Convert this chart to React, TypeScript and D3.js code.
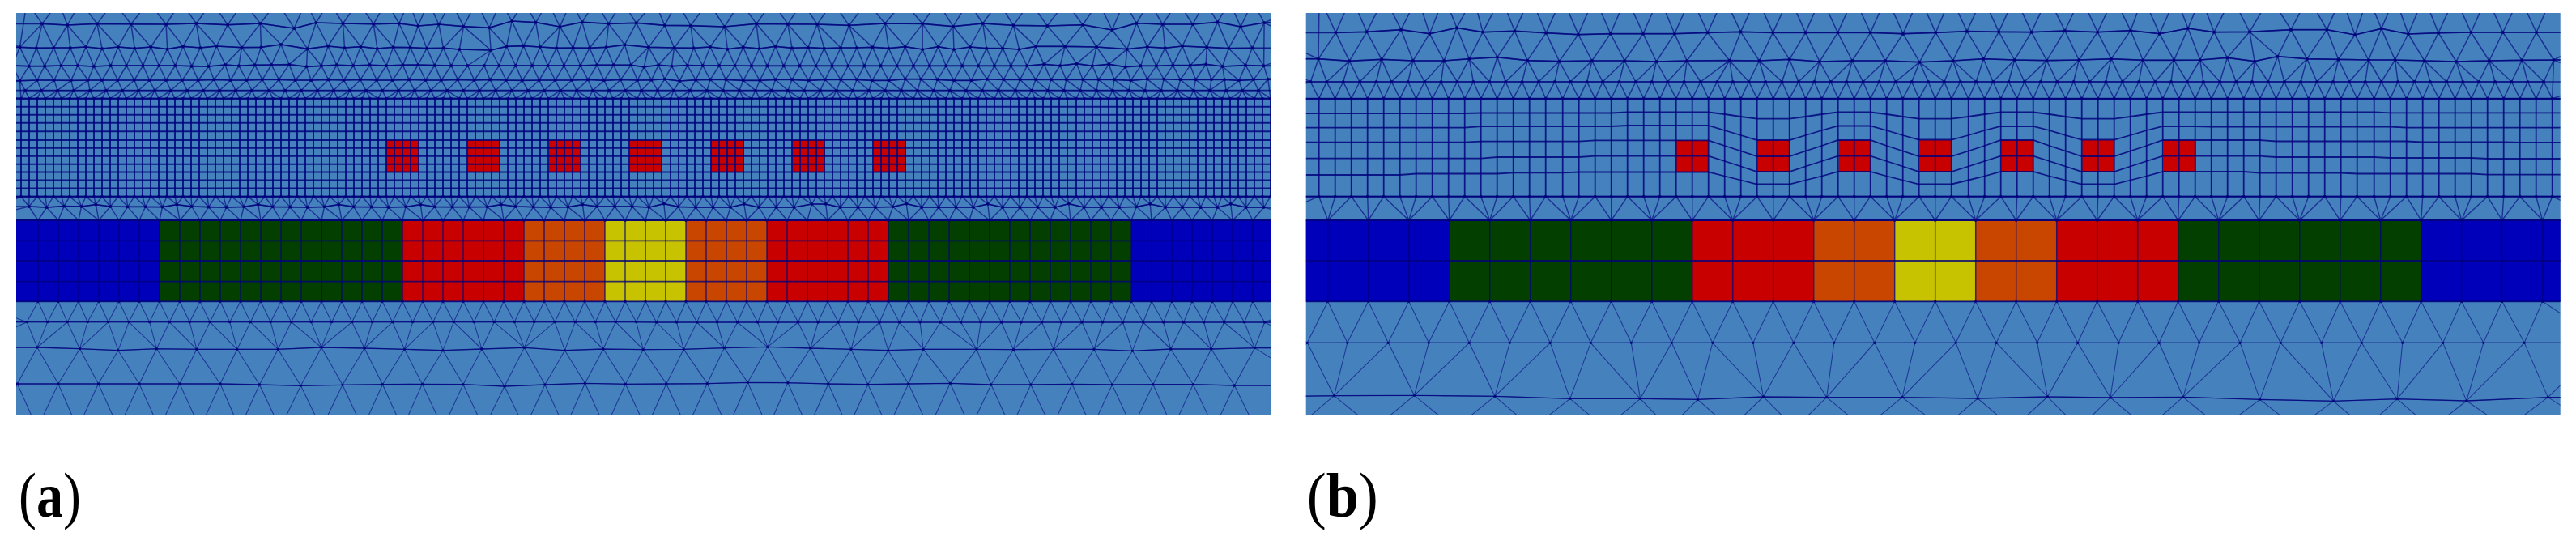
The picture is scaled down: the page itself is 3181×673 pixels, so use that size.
import React from "react";
import * as d3 from "d3";

type P = [number, number];

// ---- regions and their colours ----
const bandEdges = [0, 177, 477, 627, 727, 827, 927, 1077, 1377, 1549];
const bandMaterials = ["#0000bb", "#034000", "#c80000", "#c84600", "#c8c300", "#c84600", "#c80000", "#034000", "#0000bb"];
const squareLefts = [457, 557.5, 658, 758, 858.5, 958.5, 1059];
const squareSpan = 40;
const squareTop = 173;
const squareBottom = 212.5;

// ---- structured grid (panel a), column positions ----
const columnsA = [
  6,16,26,36,46,56,66,76,86,96,106,116,126,136,146,156,166,176,186,196,206,216,226,236,246,256,266,276,286,296,
  307,317,327,337,347,357,367,377,387,397,407,417,427,437,447,457,467,477,487,497,507,517,527,537,547,557,567,577,587,597,
  607,617,627,637,647,657,667,677,687,697,707,717,727,737,747,757,767,777,787,797,
  808,818,828,838,848,858,868,878,888,898,908,918,928,938,948,958,968,978,988,998,1008,1018,1028,1038,1048,1058,1068,1078,1088,1098,
  1108,1118,1128,1138,1148,1158,1168,1178,1188,1198,1208,1218,1228,1238,1248,1258,1268,1278,1288,1298,
  1309,1319,1329,1339,1349,1359,1369,1379,1389,1399,1409,1419,1429,1439,1449,1459,1469,1479,1489,1499,1509,1519,1529,1539,1549,
];
const rowsA = [121.7, 131.7, 141.7, 151.7, 162.2, 173, 182.7, 192.7, 202.7, 212.5, 222.5, 232.5, 242.7];

// ---- structured grid (panel b), deformed rows, one height per column ----
const rowB0 = Array.from({ length: 77 }, () => 122);
const rowB1 = [
  140,140,140,140,140,140,140,140,140,140, 139.5,139.5,139.5,139.5,139.5,139.5,139.5,139.5,139.5,
  138.5,138.5,138.5,138.5,138.5,138.5, 141,144,146.7,146.7,146.7,144,141, 138.5,138.5,138.5, 141,144,146.7,146.7,146.7,144,141,
  138.5,138.5,138.5, 141,144,146.7,146.7,146.7,144,141, 138.5,138.5,138.5,
  138.5,138.5,138.5,138.5,138.5,138.5,138.5,138.5,138.5,138.5,138.5, 139.3,139.3,139.3,139.3,139.3,139.3,139.3,139.3,139.3,139.3,139.3,
];
const rowB2 = [
  157.7,157.7,157.7,157.7,157.7,157.7,157.7,157.7,157.7,157.7, 156,156,156,156,156,156,156,156,156,
  155,155,155,155,155,155, 161,167,173,173,173,167,161, 155.5,155.5,155.5, 161,167,172.5,172.5,172.5,167,161,
  156,156,156, 161,167,172.5,172.5,172.5,167,161, 156,156,156,
  156.5,156.5,156.5,156.5,156.5,156.5,156.5,156.5,156.5,156.5,156.5,156.5, 157.7,157.7,157.7,157.7,157.7,157.7,157.7,157.7,157.7,157.7,
];
const rowB3 = [
  175.7,175.7,175.7,175.7,175.7,175.7,175.7,175.7,175.7,175.7, 174.7,174.7,174.7,174.7,174.7,174.7,174.7,
  173.3,173.3,173.3,173.3,173.3,173.3,173.3,173.3, 180,186.5,193,193,193,186.5,180, 173,173,173, 180,186.5,193,193,193,186.5,180,
  173,173,173, 180,186.5,193,193,193,186.5,180, 173,173,173,173,173,173,173,
  174.5,174.5,174.5,174.5,174.5,174.5,174.5,174.5,174.5, 175.5,175.5,175.5,175.5,175.5,175.5, 176,176,176,
];
const rowB4 = [
  195.7,195.7,195.7,195.7,195.7,195.7,195.7,195.7,195.7,195.7,195.7, 194,194,194,194,194,194,
  192.7,192.7,192.7,192.7,192.7,192.7,192.7,192.7, 199,205.5,212,212,212,205.5,199, 192.7,192.7,192.7, 199,205.5,212,212,212,205.5,199,
  192.7,192.7,192.7, 199,205.5,212,212,212,205.5,199, 192.7,192.7,192.7,192.7,192.7,192.7,192.7,
  194,194,194,194,194,194,194, 195,195,195,195,195,195, 196,196,196,196,196,
];
const rowB5 = [
  216,216,216,216,216,216, 214.5,214.5,214.5,214.5,214.5,214.5, 213.3,213.3,213.3,213.3,
  212.5,212.5,212.5,212.5,212.5,212.5,212.5,212.5,212.5, 217.5,222.5,227.5,227.5,227.5,222.5,217.5, 212,212,212, 217.5,222.5,227.5,227.5,227.5,222.5,217.5,
  212,212,212, 217.5,222.5,227.5,227.5,227.5,222.5,217.5, 212,212,212,212,212,212,
  213.5,213.5,213.5,213.5,213.5,213.5, 214.5,214.5,214.5,214.5,214.5,214.5,214.5,214.5, 215.7,215.7,215.7,215.7,215.7,
];
const rowB6 = Array.from({ length: 77 }, () => 242.7);
const rowsB = [rowB0, rowB1, rowB2, rowB3, rowB4, rowB5, rowB6];

// ---- coloured band, grid lines ----
const bandColumnsA = [27,52,77,102,127,152,177,202,227,252,277,302,327,352,377,402,427,452,477,502,527,552,577,602,627,652,677,702,727,752,777,802,827,852,877,902,927,952,977,1002,1027,1052,1077,1102,1127,1152,1177,1202,1227,1252,1277,1302,1327,1352,1377,1402,1427,1452,1477,1502,1527];
const bandRowsA = [272, 297.3, 322, 347.7, 372.3];
const bandRowsB = [272, 322, 372.3];

const a0L: P[] = [[65,6],[142,6],[195,6],[275,6],[360,6],[438,6],[513,6],[590,6],[671,6],[740,6],[797,6],[867,6],[935,6],[989,6],[1037,6],[1092,6],[1153,6],[1212,6],[1268,6],[1326,6],[1382,6],[1441,6],[1506,6]];
const a0R: P[] = [[56,-24],[110,-24],[185,-24],[263,-24],[340,-24],[413,-24],[487,-24],[570,-24],[658,-24],[740,-24],[815,-24],[888,-24],[965,-24],[1050,-24],[1130,-24],[1192,-24],[1253,-24],[1322,-24],[1388,-24],[1447,-24],[1503,-24]];
const a1L: P[] = [[102,88],[163,93],[235,88],[317,89],[402,90],[475,87],[551,92],[630,87],[712,105],[765,84],[830,87],[904,89],[966,87],[1012,96],[1062,90],[1122,98],[1184,103],[1239,78],[1297,83],[1355,99],[1409,82],[1473,88],[1540,85]];
const a1R: P[] = [[80,64],[143,65],[225,69],[302,58],[378,59],[449,60],[526,64],[613,57],[704,58],[778,68],[850,57],[924,64],[1006,66],[1092,62],[1163,81],[1222,56],[1285,60],[1358,60],[1418,52],[1474,69],[1531,54]];
const a2L: P[] = [[48,175],[88,178],[130,177],[170,177],[208,174],[247,180],[286,174],[326,179],[365,174],[405,182],[443,172],[485,177],[524,171],[585,176],[632,175],[680,165],[744,181],[794,171],[834,177],[873,173],[913,180],[952,175],[993,176],[1033,179],[1073,178],[1112,183],[1188,186],[1226,172],[1267,170],[1307,174],[1347,178],[1387,177],[1427,178],[1467,175],[1512,166]];
const a2R: P[] = [[41,145],[103,147],[150,148],[190,144],[232,152],[270,145],[309,150],[348,142],[388,148],[427,146],[466,149],[506,147],[545,147],[583,145],[622,149],[662,143],[704,153],[742,143],[780,153],[819,144],[859,149],[898,149],[938,153],[978,142],[1049,142],[1125,144],[1199,152],[1248,144],[1291,148],[1333,141],[1392,145],[1445,149],[1502,148]];
const a3L: P[] = [[30,243],[70,245],[108,245],[148,243],[188,243],[227,246],[268,243],[306,243],[346,243],[385,243],[424,243],[464,245],[505,246],[545,240],[578,244],[617,241],[657,240],[700,239],[742,247],[778,244],[815,241],[855,243],[895,241],[935,243],[975,241],[1012,240],[1052,242],[1092,243],[1132,243],[1172,243],[1208,243],[1248,243],[1288,243],[1326,243],[1365,243],[1405,243],[1445,241],[1485,241],[1527,241]];
const a3R: P[] = [[30,218],[65,211],[97,215],[135,212],[172,213],[212,213],[250,213],[290,214],[328,214],[368,214],[407,214],[446,214],[485,214],[524,214],[563,214],[603,214],[642,214],[682,214],[721,214],[761,214],[800,214],[839,214],[878,214],[918,214],[957,214],[998,208],[1037,213],[1077,206],[1115,214],[1155,208],[1195,218],[1232,214],[1270,214],[1310,212],[1352,212],[1390,208],[1430,216],[1486,212],[1530,214]];
const a4L: P[] = [[48,299],[90,297],[131,297],[172,298],[213,297],[247,297],[285,297],[325,297],[362,297],[402,297],[441,297],[480,297],[518,295],[558,297],[597,297],[635,295],[675,295],[715,297],[753,297],[795,295],[832,297],[872,295],[912,297],[950,297],[990,295],[1030,297],[1068,297],[1108,295],[1148,297],[1186,295],[1225,297],[1264,298],[1305,297],[1344,297],[1384,297],[1423,295],[1462,298],[1502,295],[1543,297]];
const a4R: P[] = [[48,266],[80,263],[116,270],[155,266],[190,265],[228,265],[270,268],[310,268],[348,265],[388,265],[428,268],[468,265],[506,265],[545,265],[582,268],[622,268],[662,263],[700,263],[740,265],[780,268],[822,268],[860,263],[900,265],[940,265],[978,265],[1015,265],[1052,265],[1092,265],[1130,265],[1168,265],[1208,268],[1248,263],[1288,263],[1328,265],[1365,265],[1403,265],[1435,265],[1470,268],[1505,265],[1540,263]];
const a5Xs = [31,51,71,91,111,131,151,171,191,211,231,251,271,291,311,332,352,372,392,412,432,452,472,492,512,532,552,572,592,612,632,652,672,692,712,732,752,772,792,812,832,852,873,893,913,933,953,973,993,1013,1033,1053,1073,1093,1113,1133,1153,1173,1193,1213,1233,1254,1274,1294,1314,1334,1354,1374,1394,1414,1434,1454,1474,1494,1514,1534,1554];
const a5Y = 111.7;
const aMidL: P[] = [[70,765],[113,768],[155,764],[197,765],[232,758],[267,765],[309,766],[352,766],[393,767],[428,758],[464,765],[505,767],[548,768],[590,766],[625,758],[660,766],[702,767],[744,768],[785,766],[820,758],[856,766],[899,767],[940,768],[982,766],[1018,758],[1052,766],[1095,767],[1136,767],[1179,766],[1213,758],[1248,765],[1291,767],[1333,768],[1375,767],[1410,758],[1445,765],[1488,765],[1530,765]];
const aMidR: P[] = [[42,60],[78,47],[113,58],[155,60],[197,60],[239,60],[272,48],[308,60],[350,60],[393,60],[436,48],[470,48],[505,60],[548,60],[590,60],[632,58],[665,47],[702,60],[743,60],[785,60],[827,60],[862,48],[898,60],[940,60],[983,60],[1025,60],[1058,47],[1095,60],[1137,60],[1180,60],[1222,58],[1255,48],[1292,60],[1333,60],[1377,60],[1418,60],[1450,48],[1487,60],[1530,60]];
const aB1L: P[] = [[65,203],[115,203],[163,203],[212,203],[262,203],[312,203],[362,203],[410,203],[459,203],[508,203],[556,203],[606,203],[655,203],[705,203],[753,203],[803,203],[852,203],[901,203],[950,203],[999,203],[1048,203],[1098,203],[1147,203],[1196,203],[1245,203],[1293,203],[1343,203],[1392,203],[1441,203],[1490,203],[1540,203]];
const aB1R: P[] = [[60,99],[109,99],[158,99],[207,99],[256,99],[305,99],[354,99],[403,99],[451,99],[500,99],[549,99],[600,99],[648,99],[698,99],[747,99],[797,99],[845,99],[895,99],[943,99],[993,99],[1040,99],[1090,99],[1140,99],[1189,99],[1238,99],[1287,99],[1336,99],[1385,99],[1434,99],[1483,99],[1532,99]];
const aB2L: P[] = [[90,297],[193,302],[286,308],[379,302],[476,304],[574,304],[673,304],[778,297],[882,300],[979,304],[1072,308],[1166,303],[1269,298],[1367,308],[1460,303]];
const aB2R: P[] = [[28,200],[126,199],[224,194],[329,190],[433,195],[531,199],[621,203],[706,199],[835,199],[924,200],[1021,199],[1119,199],[1212,205],[1305,198],[1403,198],[1508,194]];
const aB3L: P[] = [[42,432],[141,432],[238,432],[337,432],[435,432],[533,432],[628,435],[728,439],[829,436],[926,434],[1022,433],[1121,434],[1221,441],[1319,435],[1416,430],[1514,433]];
const aB3R: P[] = [[84,327],[183,326],[281,322],[378,323],[476,327],[572,329],[670,327],[771,325],[870,330],[966,330],[1066,328],[1163,330],[1262,329],[1359,329],[1459,333]];
const aB4L: P[] = [[-8,597],[90,597],[188,597],[287,597],[386,597],[484,597],[580,597],[678,597],[778,597],[878,597],[974,597],[1072,597],[1171,597],[1270,597],[1367,597],[1465,597]];
const aB4R: P[] = [[35,492],[133,492],[232,492],[330,492],[427,492],[524,492],[620,492],[720,492],[820,492],[918,492],[1016,492],[1114,492],[1212,492],[1310,492],[1410,492],[1510,492]];

const b0L: P[] = [[57,-12],[135,-12],[215,-12],[295,-12],[360,-12],[430,-12],[497,-12],[568,-12],[645,-12],[723,-12],[800,-12],[880,-12],[957,-12],[1037,-12],[1116,-12],[1195,-12],[1272,-12],[1351,-12],[1430,-12],[1510,-12]];
const b0R: P[] = [[55,-42],[132,-42],[210,-42],[290,-42],[370,-42],[450,-42],[520,-42],[600,-42],[660,-42],[735,-42],[828,-42],[920,-42],[1000,-42],[1065,-42],[1130,-42],[1200,-42],[1275,-42],[1352,-42],[1432,-42],[1510,-42]];
const b1L: P[] = [[97,121],[172,118],[255,110],[324,125],[390,103],[453,119],[530,115],[606,122],[684,128],[762,125],[841,125],[917,125],[997,121],[1077,118],[1155,121],[1234,121],[1312,121],[1391,121],[1470,125],[1549,121]];
const b1R: P[] = [[94,86],[171,88],[250,89],[331,84],[410,89],[490,83],[560,95],[629,75],[692,89],[778,88],[878,80],[965,80],[1033,99],[1097,76],[1162,96],[1235,92],[1314,90],[1391,90],[1472,90]];
const b2L: P[] = [[55,218],[130,226],[208,220],[284,225],[359,225],[420,218],[488,212],[561,224],[638,227],[717,225],[796,225],[873,228],[947,225],[1050,224],[1122,225],[1195,220],[1268,228],[1347,225],[1427,225],[1510,230]];
const b2R: P[] = [[60,195],[134,188],[209,192],[287,194],[365,192],[443,188],[520,193],[595,193],[658,192],[724,184],[790,197],[846,179],[917,188],[993,190],[1066,192],[1130,192],[1201,195],[1278,198],[1358,195],[1437,193],[1514,192]];
const b3LXs = [36,75,115,155,195,232,272,312,352,391,430,469,508,548,588,627,665,705,743,783,823,862,900,940,980,1020,1058,1097,1137,1177,1217,1255,1295,1333,1373,1412,1452,1491,1531];
const b3RXs = [39,78,116,157,195,233,272,312,352,391,430,470,510,549,588,627,666,706,745,784,823,862,902,941,980,1019,1058,1097,1137,1177,1215,1255,1294,1333,1372,1412,1451,1490];
const bB1LXs = [28,125,224,322,420,518,616,714,812,910,1009,1107,1205,1303,1401,1499];
const bB1RXs = [67,165,264,362,461,559,656,755,853,952,1049,1148,1246,1344,1443];
const bB2L: P[] = [[-100,480],[93,476],[287,475],[482,478],[664,487],[834,487],[973,490],[1132,480],[1285,482],[1468,482]];
const bB2R: P[] = [[120,381],[289,375],[441,378],[617,376],[803,385],[981,391],[1135,383],[1303,390],[1500,377]];
const bB3L: P[] = [[0,597],[190,597],[385,597],[573,597],[749,597],[903,597],[1052,597],[1208,597],[1376,597]];
const bB3R: P[] = [[35,492],[205,492],[365,492],[530,492],[710,492],[892,492],[1058,492],[1218,492],[1400,492],[1620,492]];

// ---- caption labels ----
const captions = ["a", "b"];

// ---- page layout ----
const W = 3181, H = 673;
const panelTop = 16, panelBottom = 512.7, panelWidth = 1549;
const lefts = [20, 1612.7];
const cropAL = [0, 0], cropAR = [780, 10], cropBL = [1600, 0], cropBR = [2381, 10];
const cropALow = [0, 330], cropAMid = [780, 236], cropARLow = [780, 365], cropBLow = [1600, 330], cropBRLow = [2381, 365];

const cropX = d3.scaleLinear().domain([0, 1568]).range([0, 800]);
const cropY = d3.scaleLinear().domain([0, 3]).range([0, 1]);
const fromCrop = (pts: P[], c: number[]): P[] => pts.map(([x, y]) => [c[0] + cropX(x), c[1] + cropY(y)] as P);
const flat = (xs: number[], zy: number): P[] => xs.map((x) => [x, zy] as P);

const bg = "#4581bc";
const ink = "#00007c";

function rowWithGhosts(row: P[], left: number): P[] {
  const sorted = [...row].sort((p, q) => p[0] - q[0]);
  const y0 = sorted[0][1], y1 = sorted[sorted.length - 1][1];
  const out: P[] = [];
  if (sorted[0][0] > left - 5) out.push([left - 55, y0]);
  out.push(...sorted);
  if (sorted[sorted.length - 1][0] < left + panelWidth + 5) out.push([left + panelWidth + 55, y1]);
  return out;
}

const line = d3.line();

function Region({ rows, left, showRows, edgeWidth, edgeOpacity, rowWidth, dot }: { rows: P[][]; left: number; showRows: boolean[]; edgeWidth: number; edgeOpacity: number; rowWidth: number; dot: number }) {
  const full = rows.map((r) => rowWithGhosts(r, left));
  const pts = full.flat();
  const del = d3.Delaunay.from(pts);
  const edges = del.render();
  return (
    <g>
      <path d={edges} fill="none" stroke={ink} strokeOpacity={edgeOpacity} strokeWidth={edgeWidth} />
      {full.map((r, i) => showRows[i] ? <path key={i} d={line(r) || ""} fill="none" stroke={ink} strokeOpacity={0.75} strokeWidth={rowWidth} /> : null)}
      {pts.map((p, i) => <circle key={i} cx={p[0]} cy={p[1]} r={dot} fill={ink} fillOpacity={0.8} />)}
    </g>
  );
}

function Panel({ index }: { index: number }) {
  const left = lefts[index];
  const x = d3.scaleLinear().domain([0, panelWidth]).range([left, left + panelWidth]);
  const isA = index === 0;
  const cols = isA ? columnsA : columnsA.filter((_, k) => k % 2 === 1);
  const bandCols = isA ? bandColumnsA : bandColumnsA.filter((_, k) => k % 2 === 0);
  const bandRows = isA ? bandRowsA : bandRowsB;
  const quadTop = flat(cols.map((c) => x(c)), rowsA[0]);
  const quadBottom = flat(cols.map((c) => x(c)), rowsA[rowsA.length - 1]);
  const bandTop = flat(bandCols.map((c) => x(c)), bandRows[0]);
  const bandBottom = flat(bandCols.map((c) => x(c)), bandRows[bandRows.length - 1]);

  let upper: P[][], middle: P[][], lower: P[][];
  if (isA) {
    upper = [
      [...fromCrop(a0L, cropAL), ...fromCrop(a0R, cropAR)],
      [...fromCrop(a1L, cropAL), ...fromCrop(a1R, cropAR)],
      [...fromCrop(a2L, cropAL), ...fromCrop(a2R, cropAR)],
      [...fromCrop(a3L, cropAL), ...fromCrop(a3R, cropAR)],
      [...fromCrop(a4L, cropAL), ...fromCrop(a4R, cropAR)],
      flat(a5Xs, a5Y),
      quadTop,
    ];
    middle = [quadBottom, [...fromCrop(aMidL, cropAL), ...fromCrop(aMidR, cropAMid)], bandTop];
    lower = [
      bandBottom,
      [...fromCrop(aB1L, cropALow), ...fromCrop(aB1R, cropARLow)],
      [...fromCrop(aB2L, cropALow), ...fromCrop(aB2R, cropARLow)],
      [...fromCrop(aB3L, cropALow), ...fromCrop(aB3R, cropARLow)],
      [...fromCrop(aB4L, cropALow), ...fromCrop(aB4R, cropARLow)],
    ];
  } else {
    upper = [
      [...fromCrop(b0L, cropBL), ...fromCrop(b0R, cropBR)],
      [...fromCrop(b1L, cropBL), ...fromCrop(b1R, cropBR)],
      [...fromCrop(b2L, cropBL), ...fromCrop(b2R, cropBR)],
      [...fromCrop(flat(b3LXs, 303), cropBL), ...fromCrop(flat(b3RXs, 273), cropBR)],
      quadTop,
    ];
    middle = [quadBottom, bandTop];
    lower = [
      bandBottom,
      [...fromCrop(flat(bB1LXs, 280), cropBLow), ...fromCrop(flat(bB1RXs, 175), cropBRLow)],
      [...fromCrop(bB2L, cropBLow), ...fromCrop(bB2R, cropBRLow)],
      [...fromCrop(bB3L, cropBLow), ...fromCrop(bB3R, cropBRLow)],
    ];
  }

  return (
    <g>
      <rect x={left} y={panelTop} width={panelWidth} height={panelBottom - panelTop} fill={bg} />
      {bandMaterials.map((c, i) => (
        <rect key={i} x={x(bandEdges[i])} y={bandRows[0]} width={x(bandEdges[i + 1]) - x(bandEdges[i])} height={bandRows[bandRows.length - 1] - bandRows[0]} fill={c} />
      ))}
      {squareLefts.map((s, i) => (
        <rect key={i} x={x(s)} y={squareTop} width={squareSpan} height={squareBottom - squareTop} fill="#c80000" />
      ))}
      <g clipPath={`url(#clip${index})`}>
        <g filter="url(#soft)">
          <Region rows={upper} left={left} showRows={upper.map((_, i) => i > 0)} edgeWidth={1.5} edgeOpacity={0.62} rowWidth={1.7} dot={2} />
          <Region rows={middle} left={left} showRows={middle.map(() => true)} edgeWidth={1.4} edgeOpacity={0.62} rowWidth={1.7} dot={1.9} />
          <Region rows={lower} left={left} showRows={lower.map((_, i) => i > 0 && i < lower.length - 1)} edgeWidth={1.05} edgeOpacity={0.58} rowWidth={1.3} dot={1.7} />
          {/* structured cells */}
          {cols.map((c, i) => (
            <path key={"v" + i} fill="none" stroke={ink} strokeOpacity={0.82} strokeWidth={isA ? 2 : 1.8}
              d={line((isA ? rowsA : rowsB.map((r) => r[i])).map((y) => [x(c), y] as P)) || ""} />
          ))}
          {(isA ? rowsA.map((y) => cols.map((c) => [x(c), y] as P)) : rowsB.map((r) => cols.map((c, i) => [x(c), r[i]] as P))).map((r, i) => (
            <path key={"h" + i} fill="none" stroke={ink} strokeOpacity={0.82} strokeWidth={isA ? 2 : 1.8}
              d={line([[left, r[0][1]] as P, ...r, [left + panelWidth, r[r.length - 1][1]] as P]) || ""} />
          ))}
          {/* band cells */}
          {bandCols.map((c, i) => (
            <line key={"bv" + i} x1={x(c)} x2={x(c)} y1={bandRows[0]} y2={bandRows[bandRows.length - 1]} stroke={ink} strokeOpacity={0.72} strokeWidth={1.5} />
          ))}
          {bandRows.map((y, i) => (
            <line key={"bh" + i} x1={left} x2={left + panelWidth} y1={y} y2={y} stroke={ink} strokeOpacity={0.78} strokeWidth={1.8} />
          ))}
        </g>
      </g>
      <text x={left + (isA ? 3 : 1)} y={638} textLength={isA ? 77 : 88} lengthAdjust="spacingAndGlyphs"
        fontFamily="'Liberation Serif', serif" fontSize={78} fill="#000">
        (<tspan fontWeight={700}>{captions[index]}</tspan>)
      </text>
    </g>
  );
}

export default function App() {
  return (
    <svg width={W} height={H} viewBox={`0 0 ${W} ${H}`} style={{ position: "absolute", left: 0, top: 0, display: "block", background: "#fff" }}>
      <defs>
        <filter id="soft" x="-2%" y="-5%" width="104%" height="110%">
          <feGaussianBlur stdDeviation={0.65} />
        </filter>
        {lefts.map((l, i) => (
          <clipPath key={i} id={`clip${i}`}>
            <rect x={l} y={panelTop} width={panelWidth} height={panelBottom - panelTop} />
          </clipPath>
        ))}
      </defs>
      <Panel index={0} />
      <Panel index={1} />
    </svg>
  );
}
